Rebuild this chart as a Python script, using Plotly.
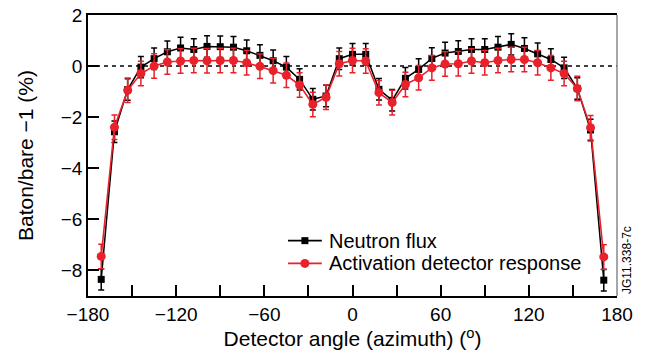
import plotly.graph_objects as go

angles = [-171, -162, -153, -144, -135, -126, -117, -108, -99, -90, -81, -72, -63, -54,
          -45, -36, -27, -18, -9, 0, 9, 18, 27, 36, 45,
          54, 63, 72, 81, 90, 99, 108, 117, 126, 135, 144, 153, 162, 171]

neutron_flux = [-8.35, -2.57, -0.92, -0.04, 0.29, 0.56, 0.71, 0.65, 0.77, 0.76, 0.74, 0.60, 0.42, 0.21,
                -0.04, -0.52, -1.30, -1.17, 0.29, 0.46, 0.46, -0.91, -1.34, -0.48, -0.13,
                0.30, 0.51, 0.57, 0.65, 0.65, 0.74, 0.85, 0.69, 0.48, 0.26, -0.07, -0.88, -2.50, -8.38]
neutron_err = [0.42] * 39

activation = [-7.45, -2.39, -0.95, -0.29, 0.00, 0.16, 0.20, 0.22, 0.21, 0.22, 0.22, 0.13, -0.01, -0.18,
              -0.36, -0.74, -1.50, -1.22, 0.09, 0.22, 0.20, -1.04, -1.43, -0.72, -0.46,
              -0.07, 0.08, 0.09, 0.20, 0.13, 0.22, 0.26, 0.26, 0.13, -0.07, -0.29, -0.88, -2.41, -7.47]
activation_err = [0.48] * 39

series_names = ["Neutron flux", "Activation detector response"]

xtick_vals = [-180, -150, -120, -90, -60, -30, 0, 30, 60, 90, 120, 150, 180]
xtick_text = ["−180", "", "−120", "", "−60", "", "0", "", "60", "", "120", "", "180"]
ytick_vals = [-8, -6, -4, -2, 0, 2]

RED = "#e8212b"
FONT = "Liberation Sans, Arial, Helvetica, sans-serif"

fig = go.Figure()
fig.add_trace(go.Scatter(
    x=angles, y=neutron_flux, name=series_names[0], mode="lines+markers",
    line=dict(color="black", width=1.5),
    marker=dict(symbol="square", size=7, color="black"),
    error_y=dict(type="data", array=neutron_err, color="black", thickness=1.5, width=3),
    showlegend=False,
))
fig.add_trace(go.Scatter(
    x=angles, y=activation, name=series_names[1], mode="lines+markers",
    line=dict(color=RED, width=1.6),
    marker=dict(symbol="circle", size=9, color=RED),
    error_y=dict(type="data", array=activation_err, color=RED, thickness=1.5, width=3),
    showlegend=False,
))

# dashed zero line and grey right frame
fig.add_shape(type="line", xref="paper", yref="y", x0=0, x1=1, y0=0, y1=0,
              line=dict(color="black", width=1.5, dash="4px,4px"), layer="below")
fig.add_shape(type="line", xref="paper", yref="paper", x0=1, x1=1, y0=0, y1=1,
              line=dict(color="#888888", width=1.5))

# legend (drawn manually for compact row spacing)
leg_x0, leg_x1, leg_xm, leg_tx = 0.378, 0.442, 0.410, 0.452
leg_rows = [0.197, 0.116]
leg_colors = ["black", RED]
for i, (yy, col) in enumerate(zip(leg_rows, leg_colors)):
    fig.add_shape(type="line", xref="paper", yref="paper", x0=leg_x0, x1=leg_x1, y0=yy, y1=yy,
                  line=dict(color=col, width=1.6))
    if i == 0:
        fig.add_shape(type="rect", xref="paper", yref="paper", xsizemode="pixel", ysizemode="pixel",
                      xanchor=leg_xm, yanchor=yy, x0=-3.5, x1=3.5, y0=-3.5, y1=3.5,
                      line=dict(width=0), fillcolor=col)
    else:
        fig.add_shape(type="circle", xref="paper", yref="paper", xsizemode="pixel", ysizemode="pixel",
                      xanchor=leg_xm, yanchor=yy, x0=-4.5, x1=4.5, y0=-4.5, y1=4.5,
                      line=dict(width=0), fillcolor=col)
    fig.add_annotation(text=series_names[i], xref="paper", yref="paper", x=leg_tx, y=yy,
                       xanchor="left", yanchor="middle", showarrow=False,
                       font=dict(size=20, color="black", family=FONT))

fig.add_annotation(text="JG11.338-7c", xref="paper", yref="paper", x=1.0, y=0.0,
                   xshift=10, textangle=-90, showarrow=False, xanchor="center", yanchor="bottom",
                   font=dict(size=12, color="black", family=FONT))

fig.update_layout(
    width=648, height=356,
    margin=dict(l=88, r=31, t=15, b=60),
    paper_bgcolor="white", plot_bgcolor="white",
    font=dict(family=FONT, color="black", size=19),
    showlegend=False,
)
fig.update_xaxes(
    range=[-180, 180], tickvals=xtick_vals, ticktext=xtick_text,
    ticks="inside", ticklen=11, tickwidth=1.5, tickcolor="black",
    showline=True, linecolor="black", linewidth=1.5, mirror=True,
    showgrid=False, zeroline=False, automargin=False,
    title=dict(text="Detector angle (azimuth) (<sup>o</sup>)", font=dict(size=21), standoff=4),
    tickfont=dict(size=19),
)
fig.update_yaxes(
    range=[-9, 2], tickvals=ytick_vals,
    ticks="inside", ticklen=11, tickwidth=1.5, tickcolor="black",
    showline=True, linecolor="black", linewidth=1.5,
    showgrid=False, zeroline=False, automargin=False,
    title=dict(text="Baton/bare −1 (%)", font=dict(size=21), standoff=21),
    tickfont=dict(size=19),
)

# remove the browser's default 8px body margin so the figure fills the window exactly
fig.write_html("out.html", config={"displayModeBar": False},
               post_script="document.body.style.margin='0px';")
